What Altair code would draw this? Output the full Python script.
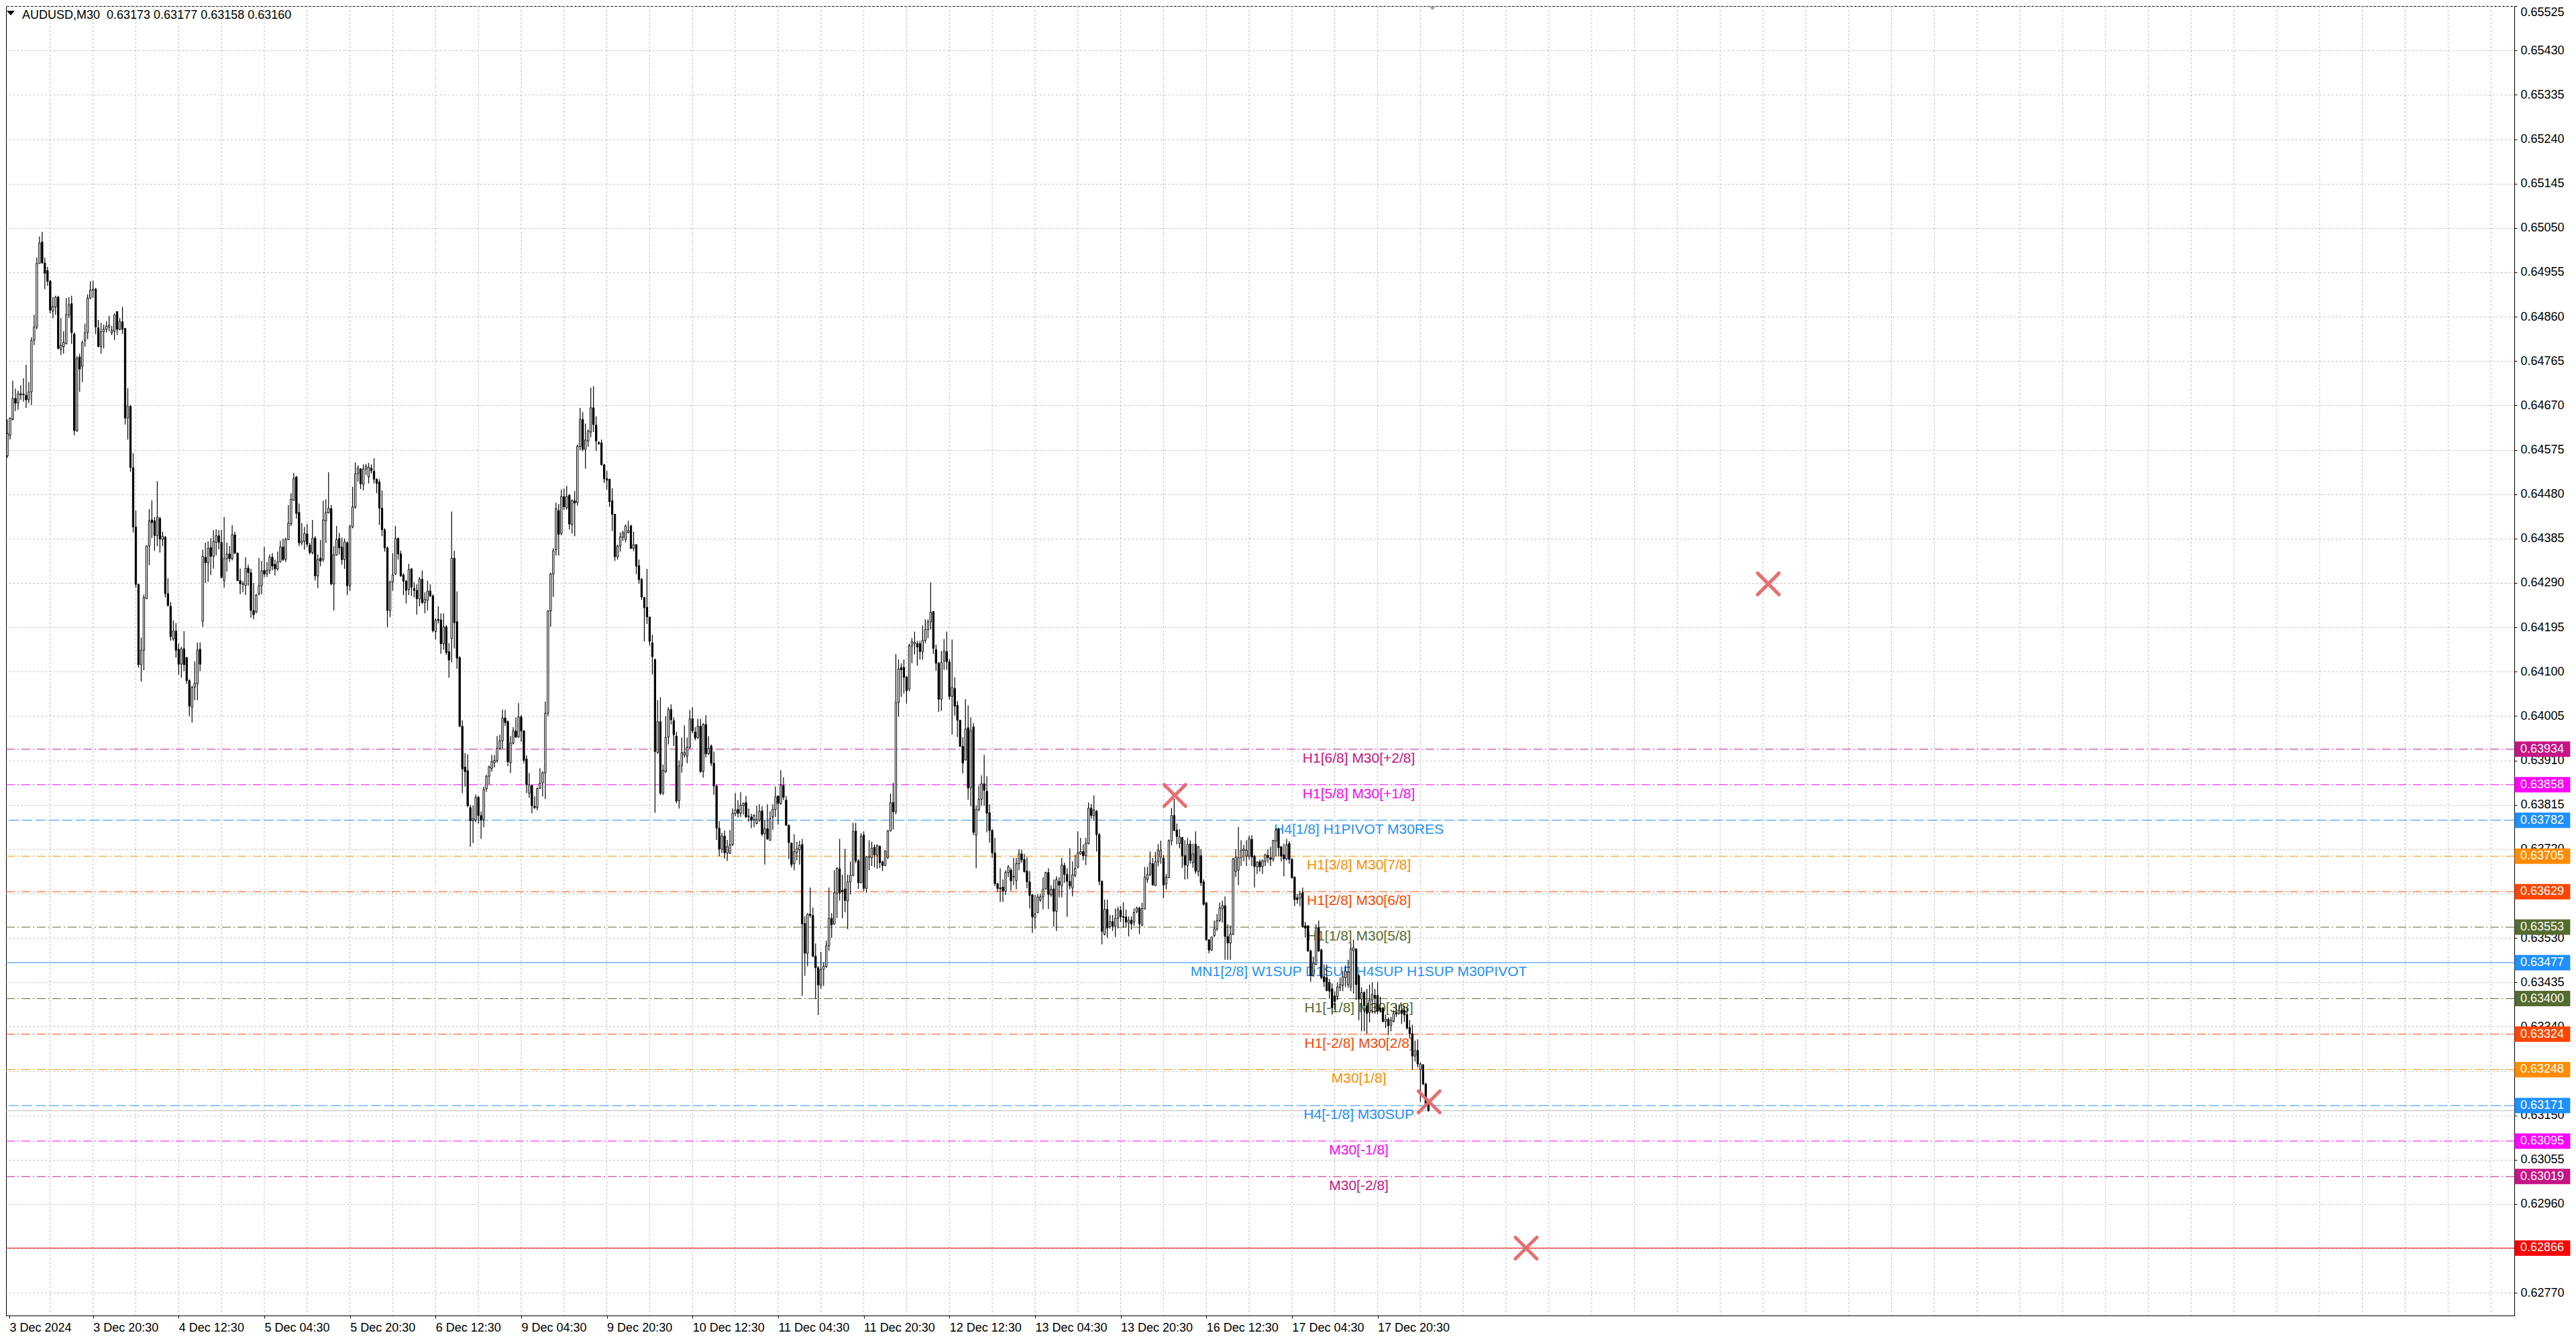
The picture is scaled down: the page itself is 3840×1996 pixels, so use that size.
import altair as alt
import pandas as pd

# ---------------- data (prices in points, 1 point = 0.00001) ----------------
OPEN = [
64562,64606,64640,64685,64675,64695,64693,64692,64682,64699,
64810,64838,64974,65020,64975,64959,64936,64872,64881,64902,
64790,64796,64802,64864,64888,64823,64616,64774,64754,64809,
64826,64900,64917,64919,64836,64796,64828,64833,64838,64826,
64829,64871,64833,64849,64835,64643,64668,64537,64410,64287,
64115,64146,64256,64369,64425,64423,64391,64428,64383,64388,
64267,64240,64170,64187,64148,64116,64149,64130,64081,64024,
64067,64074,64148,64208,64345,64333,64366,64347,64377,64391,
64377,64295,64342,64352,64342,64393,64354,64295,64288,64285,
64322,64312,64231,64228,64267,64284,64317,64309,64317,64345,
64330,64320,64335,64367,64340,64383,64417,64467,64517,64441,
64376,64379,64395,64371,64355,64386,64305,64343,64340,64423,
64440,64449,64288,64350,64385,64367,64340,64376,64284,64410,
64452,64524,64534,64501,64534,64517,64536,64529,64512,64506,
64450,64404,64365,64231,64292,64309,64385,64352,64307,64294,
64276,64320,64278,64274,64256,64298,64248,64253,64273,64262,
64186,64212,64211,64160,64196,64143,64171,64343,64207,64130,
63983,63896,63888,63809,63781,63782,63831,63792,63784,63849,
63876,63893,63905,63910,63936,63952,64001,63993,63905,63947,
63973,63960,64003,63973,63913,63840,63856,63812,63809,63850,
63862,63883,64011,64230,64309,64361,64445,64396,64475,64451,
64478,64415,64466,64462,64582,64640,64576,64594,64613,64665,
64628,64591,64590,64543,64513,64512,64466,64437,64346,64369,
64388,64383,64398,64412,64364,64372,64327,64298,64259,64238,
64217,64162,64126,63927,63993,63840,63886,63960,64019,63995,
63962,63824,63899,63922,63919,63938,63999,63971,63959,63983,
63887,63987,63924,63941,63904,63855,63765,63720,63748,63712,
63711,63730,63796,63805,63797,63813,63820,63791,63789,63783,
63775,63782,63802,63753,63764,63739,63789,63805,63834,63818,
63856,63825,63771,63733,63689,63713,63719,63730,63561,63497,
63581,63578,63491,63466,63429,63463,63469,63513,63572,63560,
63626,63678,63632,63635,63609,63650,63664,63759,63695,63648,
63750,63636,63702,63702,63724,63707,63726,63693,63685,63702,
63759,63820,63800,64034,64109,64109,64089,64063,64155,64160,
64160,64160,64143,64167,64190,64207,64229,64147,64118,64041,
64123,64143,64121,64047,64064,64028,63996,63940,63911,63980,
63851,63982,63750,63805,63827,63860,63844,63798,63760,63712,
63646,63637,63639,63630,63670,63675,63662,63653,63689,63710,
63698,63673,63650,63622,63574,63584,63611,63618,63635,63670,
63622,63635,63587,63651,63642,63685,63666,63651,63637,63664,
63682,63710,63715,63706,63732,63808,63792,63801,63751,63651,
63538,63591,63554,63565,63555,63572,63589,63576,63575,63562,
63568,63564,63586,63594,63557,63592,63655,63666,63689,63642,
63693,63703,63701,63645,63659,63738,63792,63761,63732,63745,
63706,63685,63731,63691,63731,63672,63706,63650,63605,63526,
63504,63535,63549,63567,63593,63599,63533,63519,63538,63672,
63675,63702,63717,63705,63705,63741,63705,63682,63693,63683,
63694,63707,63702,63698,63737,63763,63725,63708,63699,63732,
63698,63660,63616,63615,63627,63556,63556,63502,63449,63473,
63552,63504,63447,63445,63435,63421,63406,63404,63424,63429,
63445,63430,63425,63503,63506,63449,63399,63413,63385,63370,
63397,63407,63407,63380,63380,63351,63356,63342,63351,63370,
63368,63375,63375,63366,63338,63325,63277,63289,63248,63258,
63217,63173]

HIGH = [
64640,64644,64723,64706,64702,64713,64728,64757,64720,64816,
64864,64987,65032,65042,64987,64967,64939,64902,64905,64905,
64857,64829,64900,64902,64905,64826,64776,64781,64809,64845,
64908,64936,64937,64922,64853,64847,64843,64850,64862,64840,
64867,64872,64857,64881,64836,64707,64671,64568,64445,64288,
64173,64265,64370,64448,64467,64431,64508,64432,64400,64390,
64300,64249,64210,64204,64160,64153,64187,64132,64084,64070,
64122,64163,64163,64361,64376,64379,64386,64403,64405,64403,
64403,64431,64376,64369,64414,64400,64355,64321,64294,64345,
64329,64320,64290,64267,64343,64337,64367,64335,64351,64354,
64340,64357,64380,64385,64387,64457,64482,64525,64519,64460,
64418,64410,64416,64376,64425,64390,64351,64382,64466,64469,
64527,64457,64369,64412,64397,64387,64385,64379,64415,64496,
64548,64542,64536,64544,64545,64547,64544,64557,64514,64512,
64488,64407,64368,64295,64354,64412,64387,64359,64311,64296,
64331,64322,64292,64287,64303,64317,64270,64295,64287,64266,
64214,64240,64225,64225,64200,64161,64443,64359,64272,64133,
63996,63926,63923,63815,63813,63837,63834,63801,63854,63879,
63899,63922,63922,63962,63965,64019,64018,63996,63962,63981,
64002,64033,64007,63975,63921,63883,63858,63833,63852,63893,
63887,64036,64232,64312,64364,64462,64459,64490,64492,64498,
64480,64469,64487,64586,64665,64656,64631,64619,64708,64711,
64647,64593,64597,64545,64530,64513,64493,64438,64372,64398,
64402,64415,64423,64415,64400,64373,64340,64300,64260,64320,
64218,64179,64128,64039,64045,63901,64005,64024,64030,64002,
63971,63910,63959,63985,63959,64018,64024,63981,63999,63999,
63990,64007,63962,63944,63929,63858,63780,63755,63760,63740,
63761,63807,63840,63825,63842,63820,63834,63807,63796,63794,
63813,63816,63812,63782,63816,63801,63816,63854,63834,63889,
63874,63834,63773,63734,63752,63736,63738,63742,63576,63583,
63638,63595,63518,63470,63500,63478,63524,63638,63583,63675,
63681,63742,63665,63721,63665,63693,63776,63776,63699,63754,
63758,63705,63739,63736,63730,63730,63728,63695,63718,63761,
63839,63862,64138,64126,64118,64126,64090,64160,64172,64186,
64166,64166,64199,64212,64212,64291,64230,64158,64121,64144,
64170,64186,64127,64169,64088,64037,63997,63960,64041,64028,
64002,63990,63813,63856,63878,63922,63876,63816,63763,63744,
63648,63679,63655,63675,63686,63680,63701,63701,63720,63719,
63710,63703,63673,63624,63622,63624,63624,63660,63672,63679,
63643,63655,63662,63660,63701,63691,63679,63722,63694,63708,
63758,63744,63730,63744,63820,63817,63835,63804,63755,63653,
63612,63612,63579,63579,63593,63597,63598,63606,63591,63576,
63576,63593,63597,63597,63605,63682,63682,63715,63701,63714,
63731,63738,63708,63667,63741,63808,63828,63775,63763,63746,
63739,63744,63739,63732,63758,63727,63720,63655,63607,63527,
63533,63567,63581,63606,63610,63619,63559,63557,63701,63720,
63768,63739,63729,63739,63749,63750,63708,63694,63698,63698,
63710,63720,63725,63740,63765,63766,63727,63732,63742,63737,
63701,63662,63624,63631,63638,63564,63557,63505,63490,63559,
63567,63507,63473,63473,63442,63433,63416,63435,63445,63459,
63471,63483,63519,63526,63508,63452,63424,63416,63421,63430,
63435,63421,63435,63404,63382,63366,63360,63361,63375,63387,
63387,63389,63385,63382,63354,63344,63310,63313,63263,63260,
63220,63177]

LOW = [
64558,64597,64638,64658,64661,64682,64678,64665,64675,64671,
64799,64833,64974,64974,64919,64926,64867,64857,64864,64790,
64778,64781,64801,64857,64802,64606,64613,64699,64720,64796,
64812,64898,64900,64823,64795,64781,64792,64826,64829,64821,
64810,64821,64831,64823,64629,64597,64528,64398,64280,64109,
64079,64103,64256,64328,64386,64359,64369,64355,64369,64259,
64239,64166,64166,64130,64094,64087,64101,64074,64005,63991,
64039,64039,64101,64196,64290,64292,64307,64321,64349,64362,
64300,64280,64314,64335,64338,64352,64294,64266,64270,64264,
64284,64216,64212,64225,64263,64266,64302,64303,64309,64317,
64306,64316,64334,64337,64335,64382,64412,64466,64428,64369,
64371,64361,64367,64351,64351,64295,64279,64326,64335,64376,
64439,64285,64231,64348,64351,64329,64320,64264,64273,64407,
64449,64507,64491,64488,64521,64503,64524,64503,64482,64414,
64390,64357,64195,64217,64273,64307,64340,64303,64264,64246,
64264,64262,64259,64222,64240,64245,64225,64231,64260,64184,
64169,64203,64138,64147,64136,64087,64120,64150,64106,63982,
63840,63854,63810,63725,63733,63778,63775,63742,63767,63843,
63859,63886,63895,63905,63932,63935,63984,63898,63883,63944,
63958,63959,63950,63904,63840,63830,63797,63806,63803,63849,
63833,63827,64005,64196,64260,64349,64349,64392,64447,64447,
64404,64396,64390,64455,64574,64572,64535,64582,64602,64613,
64573,64586,64541,64504,64490,64453,64401,64337,64340,64357,
64380,64377,64396,64363,64358,64309,64288,64254,64165,64202,
64156,64094,63798,63924,63836,63836,63883,63944,63987,63941,
63818,63807,63884,63916,63904,63935,63968,63953,63956,63883,
63873,63916,63922,63898,63836,63740,63705,63712,63700,63695,
63710,63727,63791,63788,63789,63794,63787,63779,63765,63767,
63773,63779,63748,63687,63740,63738,63761,63789,63773,63815,
63825,63770,63699,63681,63675,63696,63687,63406,63449,63469,
63573,63488,63399,63365,63421,63427,63466,63503,63530,63558,
63573,63610,63572,63585,63549,63623,63662,63690,63635,63647,
63630,63627,63675,63684,63681,63678,63679,63673,63684,63699,
63758,63762,63795,64004,64046,64053,64032,64058,64118,64137,
64113,64126,64126,64161,64172,64190,64138,64102,64014,64016,
64104,64104,64040,63965,64006,63960,63939,63882,63910,63826,
63812,63750,63679,63801,63813,63813,63756,63734,63701,63641,
63629,63607,63607,63622,63660,63631,63643,63634,63675,63691,
63670,63636,63593,63541,63550,63583,63607,63591,63633,63592,
63618,63554,63545,63617,63617,63648,63575,63634,63619,63660,
63679,63708,63696,63686,63730,63785,63780,63715,63643,63516,
63535,63530,63550,63545,63532,63550,63564,63552,63552,63533,
63548,63556,63583,63538,63555,63591,63648,63662,63642,63641,
63683,63689,63615,63634,63658,63728,63758,63730,63722,63680,
63655,63656,63689,63680,63667,63662,63641,63599,63524,63497,
63502,63532,63545,63564,63563,63483,63483,63483,63536,63660,
63643,63684,63694,63684,63698,63684,63638,63667,63672,63667,
63684,63691,63684,63693,63705,63705,63694,63662,63696,63689,
63657,63598,63603,63598,63552,63531,63500,63436,63447,63472,
63500,63441,63425,63416,63401,63366,63377,63397,63416,63416,
63425,63423,63416,63411,63397,63354,63330,63330,63325,63349,
63368,63368,63366,63370,63349,63337,63322,63330,63349,63361,
63366,63346,63350,63334,63315,63248,63265,63253,63179,63215,
63173,63158]

CLOSE = [
64610,64643,64685,64675,64695,64693,64695,64682,64699,64809,
64838,64974,65018,64975,64953,64936,64874,64882,64902,64792,
64799,64805,64864,64886,64826,64616,64771,64748,64805,64826,
64900,64917,64919,64838,64796,64828,64833,64840,64842,64831,
64864,64833,64850,64833,64643,64668,64537,64410,64287,64115,
64146,64259,64369,64423,64419,64391,64430,64384,64390,64267,
64242,64175,64187,64146,64116,64149,64115,64081,64026,64067,
64075,64146,64116,64347,64333,64364,64347,64379,64391,64377,
64302,64342,64352,64342,64393,64354,64295,64288,64287,64321,
64312,64231,64222,64264,64284,64316,64309,64317,64345,64326,
64320,64335,64367,64340,64383,64418,64469,64514,64439,64376,
64380,64396,64373,64355,64386,64305,64340,64337,64425,64441,
64450,64288,64350,64383,64365,64340,64378,64284,64410,64453,
64524,64536,64502,64534,64540,64538,64530,64512,64503,64450,
64404,64365,64231,64292,64307,64385,64352,64305,64294,64274,
64319,64281,64274,64256,64298,64248,64255,64272,64262,64188,
64210,64210,64160,64196,64141,64125,64343,64205,64129,63983,
63892,63886,63813,63781,63785,63831,63792,63782,63848,63876,
63896,63907,63910,63936,63952,64001,63991,63907,63947,63973,
63960,64003,63973,63910,63858,63858,63813,63809,63850,63861,
63883,64011,64230,64309,64359,64449,64394,64475,64453,64475,
64416,64466,64461,64583,64640,64576,64596,64615,64665,64629,
64594,64588,64543,64513,64510,64464,64437,64346,64369,64389,
64398,64412,64402,64364,64372,64326,64297,64260,64237,64217,
64165,64132,63929,63993,63840,63889,63959,64019,63997,63965,
63823,63898,63927,63927,63938,63999,63973,63958,63983,63886,
63987,63924,63936,63904,63855,63765,63720,63748,63712,63725,
63730,63797,63804,63797,63814,63818,63789,63790,63782,63793,
63783,63801,63752,63764,63742,63785,63805,63832,63818,63857,
63831,63771,63734,63687,63715,63721,63728,63560,63497,63581,
63578,63491,63466,63429,63462,63469,63513,63572,63558,63627,
63679,63626,63629,63610,63650,63664,63758,63695,63648,63748,
63636,63704,63705,63722,63708,63728,63691,63685,63716,63759,
63820,63800,64034,64106,64104,64088,64059,64156,64164,64163,
64153,64143,64167,64190,64207,64227,64150,64118,64041,64120,
64144,64121,64047,64066,64026,63996,63940,63904,63977,63851,
63974,63756,63805,63827,63860,63846,63797,63760,63712,63646,
63636,63635,63630,63670,63682,63652,63661,63689,63710,63697,
63672,63650,63621,63575,63581,63618,63618,63634,63670,63623,
63634,63587,63655,63643,63686,63666,63651,63641,63665,63679,
63712,63715,63706,63733,63808,63792,63804,63751,63651,63544,
63591,63551,63565,63555,63572,63591,63575,63574,63564,63568,
63560,63584,63594,63560,63593,63660,63666,63690,63643,63693,
63718,63718,63643,63660,63738,63792,63760,63747,63746,63706,
63686,63730,63696,63710,63673,63725,63648,63602,63526,63504,
63532,63549,63567,63594,63599,63533,63519,63538,63699,63703,
63702,63718,63720,63718,63742,63703,63683,63693,63682,63695,
63708,63702,63698,63739,63761,63723,63705,63699,63729,63698,
63659,63612,63612,63624,63554,63551,63502,63449,63476,63552,
63502,63445,63436,63417,63416,63380,63394,63425,63430,63447,
63459,63457,63507,63509,63430,63399,63413,63385,63368,63397,
63409,63401,63373,63374,63351,63356,63342,63354,63368,63367,
63375,63368,63365,63337,63325,63277,63289,63260,63260,63217,
63174,63160]

TIME_LABELS = ["3 Dec 2024", "3 Dec 20:30", "4 Dec 12:30", "5 Dec 04:30",
               "5 Dec 20:30", "6 Dec 12:30", "9 Dec 04:30", "9 Dec 20:30",
               "10 Dec 12:30", "11 Dec 04:30", "11 Dec 20:30", "12 Dec 12:30",
               "13 Dec 04:30", "13 Dec 20:30", "16 Dec 12:30", "17 Dec 04:30",
               "17 Dec 20:30"]

PRICE_TICKS = [0.65525, 0.65430, 0.65335, 0.65240, 0.65145, 0.65050, 0.64955,
               0.64860, 0.64765, 0.64670, 0.64575, 0.64480, 0.64385, 0.64290,
               0.64195, 0.64100, 0.64005, 0.63910, 0.63815, 0.63720, 0.63625,
               0.63530, 0.63435, 0.63340, 0.63245, 0.63150, 0.63055, 0.62960,
               0.62865, 0.62770]

LEVEL_PRICES = [0.63934, 0.63858, 0.63782, 0.63705, 0.63629, 0.63553, 0.63477,
                0.63400, 0.63324, 0.63248, 0.63171, 0.63095, 0.63019, 0.62866]
LEVEL_NAMES = ["H1[6/8] M30[+2/8]", "H1[5/8] M30[+1/8]", "H4[1/8] H1PIVOT M30RES",
               "H1[3/8] M30[7/8]", "H1[2/8] M30[6/8]", "H1[1/8] M30[5/8]",
               "MN1[2/8] W1SUP D1SUP H4SUP H1SUP M30PIVOT", "H1[-1/8] M30[3/8]",
               "H1[-2/8] M30[2/8]", "M30[1/8]", "H4[-1/8] M30SUP", "M30[-1/8]",
               "M30[-2/8]", ""]
BID_PRICE = 0.63160

MARK_BARS = [436.25, 658.0, 531.25, 567.5]
MARK_PRICES = [0.63835, 0.64288, 0.63179, 0.62866]

TITLE = "AUDUSD,M30\u00a0\u00a00.63173 0.63177 0.63158 0.63160"

# ---------------- styles ----------------
FONT = "Liberation Sans, Arial, sans-serif"
VR, MG, DB, DO, OR, OG, RD = ("#C71585", "#FF00FF", "#1E90FF", "#FF8C00",
                              "#FF4500", "#556B2F", "#FF0000")
LEVEL_COLORS = [VR, MG, DB, DO, OR, OG, DB, OG, OR, DO, DB, MG, VR, RD]
DD = [13, 4, 2, 4]
DA = [15, 5]
SO = [1, 0]
LEVEL_DASHES = [DD, DD, DA, DD, DD, DD, SO, DD, DD, DD, DA, DD, DD, SO]
LEVEL_WIDTHS = [1, 1, 1, 1, 1, 1, 2, 1, 1, 1, 1, 1, 1, 1]
GRID_COLOR = "#c0c0c0"
MARK_COLOR = "#E6676B"

W, H = 3739, 1952
LABEL_EVERY = 32
GRID_EVERY = 16
LABEL_BAR = 505
X_START = 0.75
xs = alt.Scale(domain=[X_START, 935.5], nice=False, zero=False)
ys = alt.Scale(domain=[0.627215, 0.655252], nice=False, zero=False)

# ---------------- tables ----------------
n = min(len(OPEN), len(HIGH), len(LOW), len(CLOSE))
candles = pd.DataFrame({
    "bar": list(range(n)),
    "o": [v / 1e5 for v in OPEN[:n]],
    "h": [v / 1e5 for v in HIGH[:n]],
    "l": [v / 1e5 for v in LOW[:n]],
    "c": [v / 1e5 for v in CLOSE[:n]],
})
keys = ["L%02d" % i for i in range(len(LEVEL_PRICES))]
levels = pd.DataFrame({
    "key": keys,
    "price": LEVEL_PRICES,
    "name": LEVEL_NAMES,
    "tag": ["%.5f" % p for p in LEVEL_PRICES],
})
grid_df = pd.DataFrame({"bar": list(range(GRID_EVERY, 935, GRID_EVERY))})
marks_df = pd.DataFrame({"bar": MARK_BARS, "price": MARK_PRICES})
bid_df = pd.DataFrame({"price": [BID_PRICE]})
one = pd.DataFrame({"t": [TITLE]})

label_js = "[" + ",".join('"%s"' % t for t in TIME_LABELS) + "]"
x_tick_values = [X_START] + [i * LABEL_EVERY for i in range(1, len(TIME_LABELS))]
XAX = alt.Axis(values=x_tick_values,
               labelExpr=label_js + "[round(datum.value/%d)]" % LABEL_EVERY,
               title=None, grid=False, domain=False, ticks=True, tickSize=4,
               tickColor="#000000", labelFont=FONT, labelFontSize=18,
               labelColor="#000000", labelAlign="left", labelBaseline="top",
               labelPadding=5, labelFlush=False, labelOverlap=False, labelBound=False)
YAX = alt.Axis(orient="right", values=PRICE_TICKS, format=".5f", title=None,
               grid=True, gridColor=GRID_COLOR, gridDash=[3, 3], gridWidth=1,
               domain=False, ticks=True, tickSize=4, tickColor="#000000",
               labelFont=FONT, labelFontSize=18, labelColor="#000000",
               labelPadding=5, labelAlign="left",
               labelBaseline={"condition": {"test": "datum.value > 0.6552", "value": "top"},
                              "value": "middle"},
               labelOverlap=False, labelFlush=False, labelBound=False)

Xbar = alt.X("bar:Q", scale=xs, axis=XAX)
color_lv = alt.Color("key:N", scale=alt.Scale(domain=keys, range=LEVEL_COLORS), legend=None)

vgrid = alt.Chart(grid_df).mark_rule(color=GRID_COLOR, strokeDash=[3, 3], strokeWidth=1,
                                     clip=True).encode(x=Xbar)

level_rules = alt.Chart(levels).mark_rule().encode(
    y=alt.Y("price:Q", scale=ys, axis=YAX),
    color=color_lv,
    strokeDash=alt.StrokeDash("key:N", scale=alt.Scale(domain=keys, range=LEVEL_DASHES), legend=None),
    strokeWidth=alt.StrokeWidth("key:O", scale=alt.Scale(domain=keys, range=LEVEL_WIDTHS), legend=None),
)
bid_rule = alt.Chart(bid_df).mark_rule(color="#b8b8b8", strokeWidth=1).encode(
    y=alt.Y("price:Q", scale=ys, axis=YAX))

level_text = alt.Chart(levels).mark_text(font=FONT, fontSize=21, align="center",
                                         baseline="top", dy=3).encode(
    x=alt.XDatum(LABEL_BAR, type="quantitative", scale=xs, axis=XAX),
    y=alt.Y("price:Q", scale=ys, axis=YAX),
    text="name:N", color=color_lv)

wicks = alt.Chart(candles).mark_rule(color="#000000", strokeWidth=1.2, clip=True).encode(
    x=Xbar, y=alt.Y("l:Q", scale=ys, axis=YAX), y2="h:Q")
up = alt.Chart(candles).transform_filter("datum.c > datum.o").mark_bar(
    width=2.3, fill="#ffffff", stroke="#000000", strokeWidth=1, clip=True).encode(
    x=Xbar, y=alt.Y("o:Q", scale=ys, axis=YAX), y2="c:Q")
down = alt.Chart(candles).transform_filter("datum.c <= datum.o").mark_bar(
    width=2.3, fill="#000000", stroke="#000000", strokeWidth=1, clip=True).encode(
    x=Xbar, y=alt.Y("o:Q", scale=ys, axis=YAX), y2="c:Q")

xmarks = alt.Chart(marks_df).mark_point(
    shape="M-1,-1L1,1M-1,1L1,-1", size=1024, filled=False, color=MARK_COLOR,
    strokeWidth=5, strokeCap="round", opacity=0.95, clip=True).encode(
    x=Xbar, y=alt.Y("price:Q", scale=ys, axis=YAX))

tags = alt.Chart(levels).mark_point(
    shape="M-3.6,-1L3.6,-1L3.6,1L-3.6,1Z", size=529, filled=True, opacity=1,
    strokeWidth=0).encode(
    x=alt.value(W + 42), y=alt.Y("price:Q", scale=ys, axis=YAX), color=color_lv)
tag_text = alt.Chart(levels).mark_text(font=FONT, fontSize=18, align="left",
                                       baseline="middle", color="#ffffff").encode(
    x=alt.value(W + 9), y=alt.Y("price:Q", scale=ys, axis=YAX), text="tag:N")

info = alt.Chart(one).mark_text(font=FONT, fontSize=18, align="left",
                                baseline="alphabetic", color="#000000").encode(
    x=alt.value(24), y=alt.value(19), text="t:N")
info_tri = alt.Chart(one).mark_point(shape="M-1,-0.6L1,-0.6L0,0.6Z", size=144,
                                     filled=True, color="#000000", opacity=1).encode(
    x=alt.value(7), y=alt.value(10.5))
shift_tri = alt.Chart(one).mark_point(shape="M-1,-0.6L1,-0.6L0,0.6Z", size=100,
                                      filled=True, color="#a8a8a8", opacity=1).encode(
    x=alt.XDatum(532.5, type="quantitative", scale=xs, axis=XAX), y=alt.value(3.5))

chart = alt.layer(
    vgrid, level_rules, bid_rule, level_text, wicks, up, down,
    xmarks, tags, tag_text, info, info_tri, shift_tri
).properties(width=W, height=H, padding=0, background="#ffffff").configure_view(
    stroke="#000000", strokeWidth=1)

chart.save("out.html", embed_options={"renderer": "svg", "actions": False})
